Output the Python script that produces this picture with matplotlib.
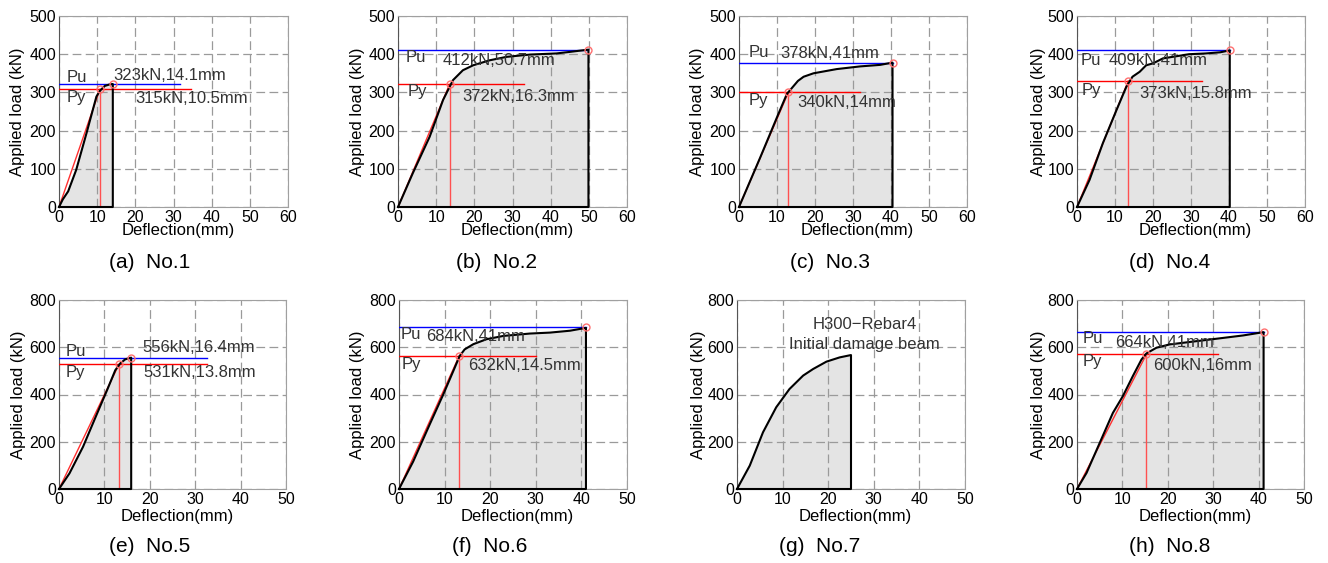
import matplotlib.pyplot as plt

plt.rcParams['font.family'] = ['Liberation Sans', 'DejaVu Sans']

# load-deflection curves (deflection mm, load kN)
defl_1 = [0, 1.0, 2.4, 4.5, 7.2, 9.8, 10.7, 12.0, 13.3, 14.1]
load_1 = [0, 20, 41, 97, 193, 289, 304, 317, 321, 322]
defl_2 = [0, 3.9, 8.3, 11.8, 14.4, 17.0, 19.7, 24.0, 28.4, 34.5, 41.5, 45.0, 49.9]
load_2 = [0, 89, 184, 280, 332, 358, 371, 384, 393, 399, 402, 406, 412]
defl_3 = [0, 5.6, 10.0, 12.6, 15.5, 17.0, 19.6, 25.7, 31.8, 37.1, 40.4]
load_3 = [0, 130, 235, 296, 330, 341, 350, 361, 368, 372, 378]
defl_4 = [0, 3.3, 6.8, 10.4, 13.0, 14.6, 16.5, 18.2, 20.0, 22.6, 25.1, 29.5, 33.9, 37.7, 40.2]
load_4 = [0, 71, 167, 254, 315, 341, 354, 371, 376, 389, 393, 400, 402, 405, 410]
defl_5 = [0, 2.3, 5.3, 8.4, 10.6, 12.4, 13.5, 14.6, 15.9]
load_5 = [0, 66, 179, 320, 419, 503, 532, 549, 556]
defl_6 = [0, 3.1, 6.7, 9.7, 11.9, 13.3, 14.4, 16.3, 19.2, 22.9, 28.7, 33.1, 37.5, 41.0]
load_6 = [0, 116, 272, 400, 499, 563, 591, 613, 634, 648, 658, 662, 670, 682]
defl_7 = [0, 2.8, 5.7, 8.6, 11.5, 14.5, 16.7, 19.6, 22.5, 25.0]
load_7 = [0, 99, 240, 346, 423, 480, 508, 539, 557, 567]
defl_8 = [0, 2.1, 5.0, 7.9, 10.1, 12.3, 14.2, 15.3, 17.5, 20.4, 24.7, 30.7, 36.6, 41.1]
load_8 = [0, 68, 195, 322, 393, 478, 548, 574, 598, 612, 622, 636, 650, 664]

# ultimate / yield points as drawn (deflection, load)
pu_pts = [(14.1, 322), (49.9, 410), (40.4, 377), (40.2, 410), (15.9, 556), (41.0, 684), None, (41.1, 664)]
py_pts = [(10.7, 308), (13.5, 321), (13.0, 300), (13.5, 330), (13.2, 527), (13.2, 563), None, (15.3, 570)]
pu_text = ['323kN,14.1mm', '412kN,50.7mm', '378kN,41mm', '409kN,41mm',
           '556kN,16.4mm', '684kN,41mm', None, '664kN,41mm']
py_text = ['315kN,10.5mm', '372kN,16.3mm', '340kN,14mm', '373kN,15.8mm',
           '531kN,13.8mm', '632kN,14.5mm', None, '600kN,16mm']
captions = ['(a)  No.1', '(b)  No.2', '(c)  No.3', '(d)  No.4',
            '(e)  No.5', '(f)  No.6', '(g)  No.7', '(h)  No.8']

curves = [(defl_1, load_1), (defl_2, load_2), (defl_3, load_3), (defl_4, load_4),
          (defl_5, load_5), (defl_6, load_6), (defl_7, load_7), (defl_8, load_8)]

# layout: axes rect in pixels (left, top, width, height)
W, H = 1328, 563
rects = [(59, 16, 229, 191), (398, 16, 229, 191), (739, 16, 228, 191), (1077, 16, 228, 191),
         (59, 300, 227, 189), (399, 300, 228, 189), (737, 300, 228, 189), (1077, 300, 227, 189)]
cap_pos = [(150, 262), (497, 262), (830, 262), (1170, 262),
           (150, 547), (490, 547), (820, 547), (1170, 547)]
ylab_x = [-0.183, -0.175, -0.18, -0.171, -0.18, -0.18, -0.171, -0.171]
# extent of the horizontal Pu / Py lines
pu_end = [31.8, 49.9, 40.4, 40.2, 32.6, 41.0, None, 41.1]
py_end = [34.5, 33.0, 31.8, 33.0, 32.6, 30.0, None, 31.1]
# annotation anchors: (Pu label, Pu value, Py label, Py value)
ann = [
    ((1.9, 339), (14.1, 343), (1.9, 286), (20.1, 284)),
    ((2.0, 391), (11.8, 384), (2.4, 302), (16.9, 289)),
    ((2.5, 404), (11.0, 403), (2.5, 278), (15.4, 274)),
    ((0.9, 384), (8.2, 383), (1.1, 304), (16.3, 297)),
    ((1.4, 584), (18.3, 598), (1.5, 495), (18.5, 492)),
    ((0.3, 655), (5.9, 644), (0.5, 528), (15.2, 521)),
    None,
    ((1.2, 636), (8.5, 622), (1.2, 541), (16.7, 523)),
]

fig = plt.figure(figsize=(W / 100, H / 100), dpi=100)
txt = '#333333'

for i, (d, p) in enumerate(curves):
    l, t, w, h = rects[i]
    ax = fig.add_axes([l / W, (H - t - h) / H, w / W, h / H])
    top_row = i < 4
    if top_row:
        ax.set_xlim(0, 60)
        ax.set_ylim(0, 500)
        ax.set_xticks(range(0, 61, 10))
        ax.set_yticks(range(0, 501, 100))
    else:
        ax.set_xlim(0, 50)
        ax.set_ylim(0, 800)
        ax.set_xticks(range(0, 51, 10))
        ax.set_yticks(range(0, 801, 200))
    # grid drawn over the shaded area, under the curves
    ax.grid(True, color='#9a9a9a', linestyle=(0, (7, 3.5)), linewidth=0.9)
    ax.set_axisbelow('line')
    for s in ['top', 'right', 'bottom']:
        ax.spines[s].set_color('#a0a0a0')
    ax.spines['left'].set_color('#555555')
    ax.tick_params(length=0, pad=2, labelsize=11.5)

    # shaded area under curve, closed down to the axis
    xs = list(d) + [d[-1]]
    ys = list(p) + [0]
    ax.fill(xs, ys, facecolor='#e4e4e4', edgecolor='none', zorder=1)

    if pu_pts[i] is not None:
        pux, puy = pu_pts[i]
        pyx, pyy = py_pts[i]
        ax.plot([0, pyx], [0, pyy], color='#ff3030', lw=1.0, zorder=3)
        ax.plot([0, pu_end[i]], [puy, puy], color='#0000ff', lw=1.0, zorder=3)
        ax.plot([0, py_end[i]], [pyy, pyy], color='#ff0000', lw=1.0, zorder=3)
        ax.plot([pyx, pyx], [0, pyy], color='#ff5050', lw=1.0, zorder=3)

    ax.plot(xs + [0], ys + [0], color='black', lw=1.5, zorder=4, clip_on=False)

    if pu_pts[i] is not None:
        ax.plot([pux, pyx], [puy, pyy], linestyle='none', marker='o', ms=5,
                mfc='none', mec='#ff7070', mew=1.0, zorder=5, clip_on=False)
        a = ann[i]
        ax.text(a[0][0], a[0][1], 'Pu', color=txt, fontsize=12, va='center', ha='left', zorder=6)
        ax.text(a[1][0], a[1][1], pu_text[i], color=txt, fontsize=12, va='center', ha='left', zorder=6)
        ax.text(a[2][0], a[2][1], 'Py', color=txt, fontsize=12, va='center', ha='left', zorder=6)
        ax.text(a[3][0], a[3][1], py_text[i], color=txt, fontsize=12, va='center', ha='left', zorder=6)
    else:
        ax.text(28.0, 697, 'H300\u2212Rebar4', color=txt, fontsize=12, ha='center', va='center', zorder=6)
        ax.text(28.0, 613, 'Initial damage beam', color=txt, fontsize=12, ha='center', va='center', zorder=6)

    ax.set_ylabel('Applied load (kN)', fontsize=12, va='center')
    ax.yaxis.set_label_coords(ylab_x[i], 0.5)
    ax.set_xlabel('Deflection(mm)', fontsize=12, va='center')
    ax.xaxis.set_label_coords(0.52, -0.125 if top_row else -0.148)

    cx, cy = cap_pos[i]
    fig.text(cx / W, 1 - cy / H, captions[i], fontsize=15, ha='center', va='center')

plt.savefig('out.png', dpi=100)
